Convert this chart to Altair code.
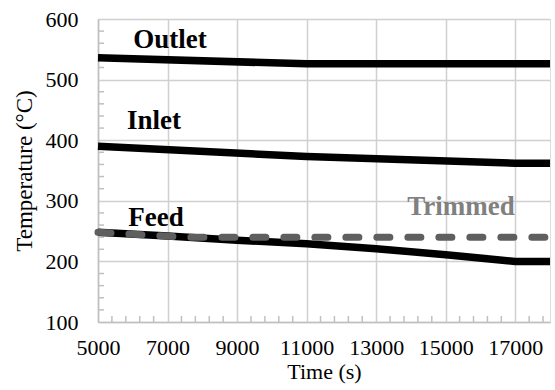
import altair as alt
import pandas as pd

# Series data
outlet_t = [5000, 11000, 18000]
outlet_v = [536, 526, 526]
inlet_t = [5000, 11000, 17000, 18000]
inlet_v = [390, 373, 362, 362]
feed_t = [5000, 7000, 9000, 11000, 13000, 15000, 17000, 18000]
feed_v = [248, 242, 235, 229, 221, 211, 200, 200]
trim_t = [5000, 7500, 18000]
trim_v = [248, 240, 240]

label_text = ["Outlet", "Inlet", "Feed"]
label_t = [7070, 6610, 6670]
label_v = [566, 432, 272]
trim_label = ["Trimmed"]
trim_label_t = [15440]
trim_label_v = [289]

x_ticks = [5000, 7000, 9000, 11000, 13000, 15000, 17000]
y_ticks = [100, 200, 300, 400, 500, 600]
x_minor = [v for v in range(5400, 18000, 400) if v not in x_ticks]
y_minor = [v for v in range(120, 600, 20) if v % 100 != 0]

rows = []
for name, ts, vs in [("Outlet", outlet_t, outlet_v), ("Inlet", inlet_t, inlet_v), ("Feed", feed_t, feed_v)]:
    for t, v in zip(ts, vs):
        rows.append({"series": name, "t": t, "v": v})
solid = pd.DataFrame(rows)
trim = pd.DataFrame({"t": trim_t, "v": trim_v})
labels = pd.DataFrame({"text": label_text, "t": label_t, "v": label_v})
tlabels = pd.DataFrame({"text": trim_label, "t": trim_label_t, "v": trim_label_v})

FONT = "'Liberation Serif', 'Times New Roman', Times, serif"
xs = alt.Scale(domain=[5000, 18000], nice=False)
ys = alt.Scale(domain=[100, 600], nice=False)

x_axis = alt.Axis(values=x_ticks, title="Time (s)", grid=True, gridColor="#d0d0d0", gridWidth=1.5,
                  domainColor="#c0c0c0", domainWidth=1.5, ticks=False, labelPadding=15,
                  labelFont=FONT, labelFontSize=22, labelColor="#000000",
                  titleFont=FONT, titleFontSize=22, titleFontWeight="normal", titleColor="#000000",
                  titlePadding=3, format="d", labelFlush=False)
y_axis = alt.Axis(values=y_ticks, title="Temperature (°C)", grid=True, gridColor="#d0d0d0", gridWidth=1.5,
                  domainColor="#c0c0c0", domainWidth=1.5, ticks=False, labelPadding=20,
                  labelFont=FONT, labelFontSize=22, labelColor="#000000",
                  titleFont=FONT, titleFontSize=23, titleFontWeight="normal", titleColor="#000000",
                  titlePadding=9, format="d")

base = alt.Chart(solid).mark_line(color="black", strokeWidth=7.5, strokeCap="butt").encode(
    x=alt.X("t:Q", scale=xs, axis=x_axis),
    y=alt.Y("v:Q", scale=ys, axis=y_axis),
    detail="series:N",
)

trim_line = alt.Chart(trim).mark_line(color="#5f5f5f", strokeWidth=7, strokeDash=[13, 18], strokeCap="round").encode(
    x=alt.X("t:Q", scale=xs), y=alt.Y("v:Q", scale=ys)
)

xm = alt.Chart(pd.DataFrame({"t": x_minor})).mark_rule(color="#c0c0c0", strokeWidth=1.5).encode(
    x=alt.X("t:Q", scale=xs), y=alt.value(303), y2=alt.value(297)
)
ym = alt.Chart(pd.DataFrame({"v": y_minor})).mark_rule(color="#c0c0c0", strokeWidth=1.5).encode(
    y=alt.Y("v:Q", scale=ys), x=alt.value(0), x2=alt.value(6)
)

txt = alt.Chart(labels).mark_text(font=FONT, fontSize=27, fontWeight="bold", color="black").encode(
    x=alt.X("t:Q", scale=xs), y=alt.Y("v:Q", scale=ys), text="text:N"
)
ttxt = alt.Chart(tlabels).mark_text(font=FONT, fontSize=27, fontWeight="bold", color="#808080").encode(
    x=alt.X("t:Q", scale=xs), y=alt.Y("v:Q", scale=ys), text="text:N"
)

chart = alt.layer(xm, ym, base, trim_line, txt, ttxt).properties(
    width=452, height=303,
    autosize=alt.AutoSizeParams(type="none"),
    padding={"left": 98, "top": 19, "right": 5, "bottom": 68},
).configure_view(stroke=None).configure(background="white")

chart.save("out.html", embed_options={"renderer": "svg", "actions": False})
